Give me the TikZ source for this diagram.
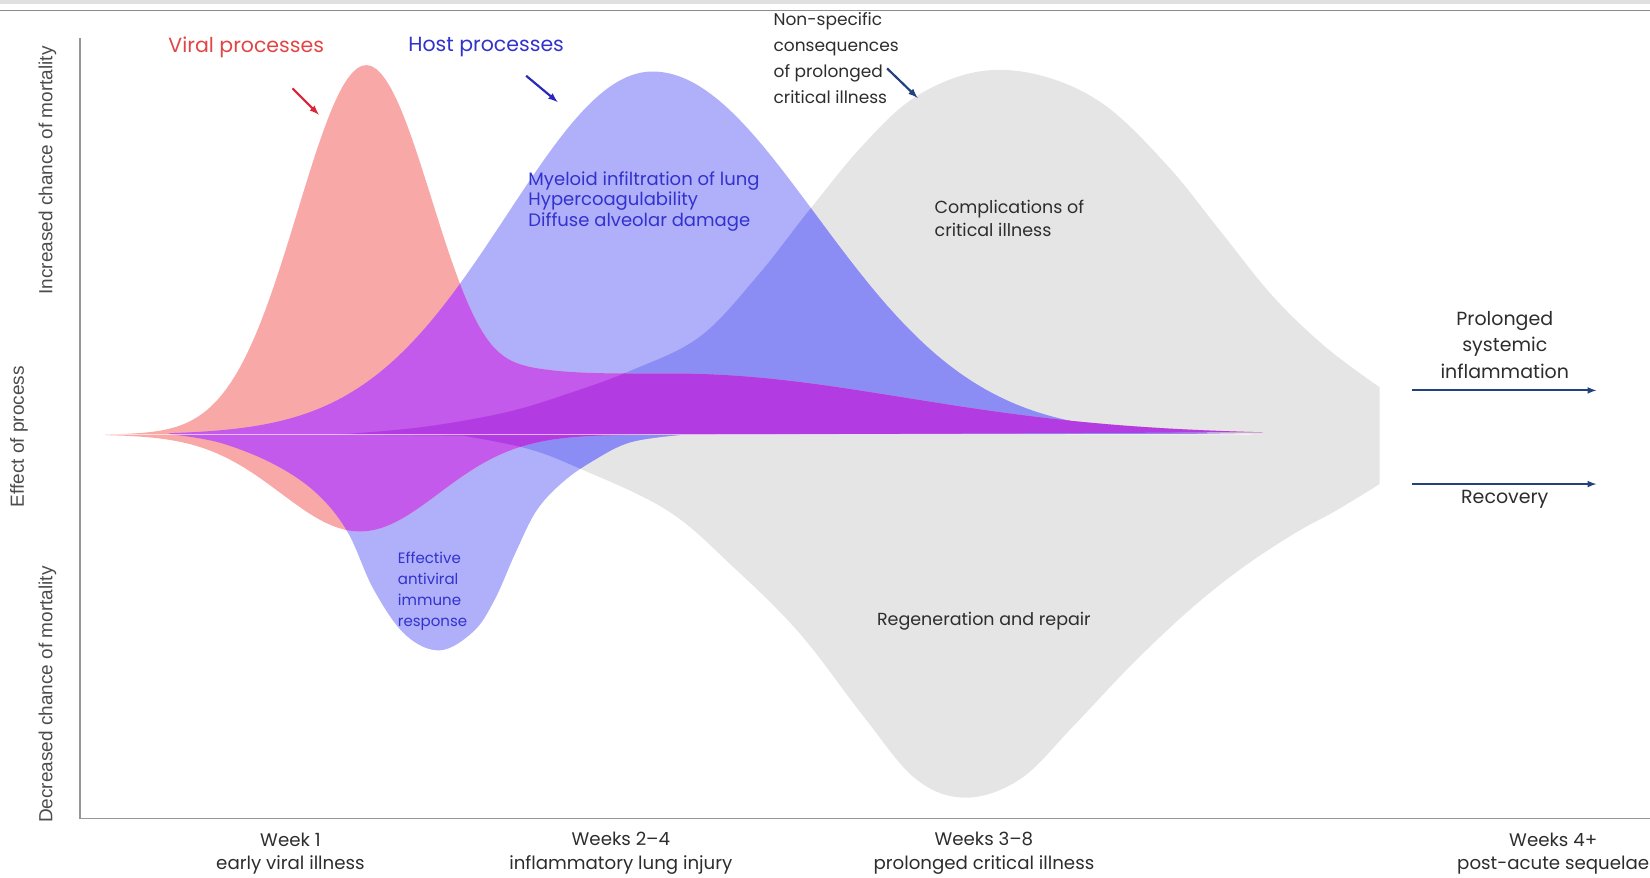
\documentclass[tikz,border=0pt]{standalone}
\usepackage{fontspec}
\setmainfont{Poppins}
\newfontfamily\axisfont{Liberation Sans}
\usetikzlibrary{positioning}

\definecolor{viral}{RGB}{249,168,168}
\definecolor{host}{RGB}{175,175,250}
\definecolor{critical}{RGB}{229,229,229}
\definecolor{hostcrit}{RGB}{140,140,245}
\definecolor{viralhost}{RGB}{195,90,235}
\definecolor{viralcrit}{RGB}{178,60,225}
\definecolor{viraltext}{RGB}{225,70,70}
\definecolor{viralarrow}{RGB}{220,35,55}
\definecolor{hosttext}{RGB}{50,50,205}
\definecolor{hostarrow}{RGB}{40,40,190}
\definecolor{navy}{RGB}{35,65,125}
\definecolor{axisgray}{RGB}{150,150,150}
\definecolor{labeltext}{RGB}{45,45,45}

% the three process shapes (pixel units, zero line at y=413)
\def\viralshape{plot[domain=100:1200,samples=240] (\x,{413-351*exp(-0.5*pow((\x-348)/65,2))-58/(1+exp(-1*max(min((\x-480)/20,8),-8)))*exp(-1*pow(max(\x-640,0)/310,2))})
  -- plot[domain=650:100,samples=120] (\x,{413+92*exp(-0.5*pow((\x-342)/75,2))}) -- cycle}
\def\hostshape{plot[domain=160:1180,samples=240] (\x,{413-345*exp(-0.5*pow((\x-620)/(\x<620 ? 138 : 155),2))})
  -- plot[smooth,tension=0.6] coordinates {(650,413) (600,420) (565,437) (535,458) (510,485) (490,525) (470,570) (450,600) (418,618) (385,603) (355,560) (330,505) (300,468) (260,441) (210,421) (165,413)} -- cycle}
\def\critshape{plot[smooth,tension=0.6] coordinates {(320,413) (400,406) (480,392) (540,374) (600,352) (665,320) (720,262) (768,201) (820,138) (870,92) (930,68) (990,72) (1050,100) (1110,158) (1160,220) (1210,282) (1260,330) (1311,368)}
  -- plot[smooth,tension=0.6] coordinates {(1311,460) (1270,485) (1230,507) (1180,540) (1130,580) (1075,632) (1020,690) (970,740) (918,758) (870,740) (820,680) (760,602) (697,539) (634,485) (548,444) (500,426) (440,414)} -- cycle}

\begin{document}
\begin{tikzpicture}[x=1.0523pt, y=-1.0523pt, >=latex,
  lbl/.style={font=\fontsize{19}{26.5}\selectfont, inner sep=0pt},
  inlbl/.style={font=\fontsize{18}{20.5}\selectfont, inner sep=0pt, align=left},
  axislbl/.style={font=\axisfont\fontsize{19}{22}\selectfont, rotate=90, text=black!70, inner sep=0pt},
  period/.style={font=\fontsize{18.2}{23.5}\selectfont, align=center, text=labeltext, inner sep=0pt},
  pointer/.style={->, line width=2.2pt}]
\useasboundingbox (0,0) rectangle (1568,834);

% page rule at the top
\fill[black!12] (0,0) rectangle (1568,4);
\draw[black!45, line width=1.6pt] (0,10) -- (1568,10);

% the shapes, overlaps filled by clipping
\fill[critical] \critshape;
\fill[host] \hostshape;
\begin{scope}
  \clip \critshape;
  \fill[hostcrit] \hostshape;
\end{scope}
\fill[viral] \viralshape;
\begin{scope}
  \clip \hostshape;
  \fill[viralhost] \viralshape;
\end{scope}
\begin{scope}
  \clip \critshape;
  \fill[viralcrit] \viralshape;
\end{scope}
\draw[white, opacity=0.6, line width=1.1pt] (100,413) -- (1190,413);

% axes
\draw[axisgray, line width=1.5pt] (76,36) -- (76,778) -- (1568,778);
\node[axislbl] (incr) at (45,162) {Increased chance of mortality};
\node[axislbl] (effect) at (18,415) {Effect of process};
\node[axislbl] (decr) at (45,660) {Decreased chance of mortality};

% process labels and pointers
\node[lbl, text=viraltext, font=\fontsize{20.5}{26}\selectfont] (viral) at (234,45) {Viral processes};
\node[lbl, text=hosttext, font=\fontsize{20.5}{26}\selectfont] (host) at (462,45) {Host processes};
\node[lbl, text=labeltext, align=left, anchor=north west, font=\fontsize{17}{26}\selectfont] (nonspec) at (735,12) {Non-specific\\consequences\\of prolonged\\critical illness};
\coordinate (viralfrom) at (278,84);
\coordinate (viralto) at (303,109);
\coordinate (hostfrom) at (500,72);
\coordinate (hostto) at (530,97);
\coordinate (critfrom) at (843,65);
\coordinate (critto) at (872,93);
\draw[pointer, viralarrow] (viralfrom) -- (viralto);
\draw[pointer, hostarrow] (hostfrom) -- (hostto);
\draw[pointer, navy] (critfrom) -- (critto);

% labels inside the shapes
\node[inlbl, text=hosttext, anchor=north west] (myeloid) at (502,163) {Myeloid infiltration of lung\\Hypercoagulability\\Diffuse alveolar damage};
\node[inlbl, text=labeltext, anchor=north west, font=\fontsize{17.5}{23}\selectfont] (complic) at (888,190) {Complications of\\critical illness};
\node[inlbl, text=hosttext, anchor=north west, font=\fontsize{15}{21}\selectfont] (effective) at (378,524) {Effective\\antiviral\\immune\\response};
\node[inlbl, text=labeltext, font=\fontsize{17.5}{21}\selectfont] (regen) at (935,590) {Regeneration and repair};

% outcomes
\coordinate (inflfrom) at (1342,371);
\coordinate (inflto) at (1517,371);
\coordinate (recfrom) at (1342,460);
\coordinate (recto) at (1517,460);
\draw[->, navy, line width=2pt] (inflfrom) -- (inflto);
\draw[->, navy, line width=2pt] (recfrom) -- (recto);
\node[lbl, text=labeltext, align=center, anchor=south] (prolonged) at (1430,360) {Prolonged\\systemic\\inflammation};
\node[lbl, text=labeltext, anchor=north] (recovery) at (1430,466) {Recovery};

% time periods
\node[period] (wk1) at (276,811) {Week 1\\early viral illness};
\node[period] (wk2) at (590,811) {Weeks 2--4\\inflammatory lung injury};
\node[period] (wk3) at (935,811) {Weeks 3--8\\prolonged critical illness};
\node[period] (wk4) at (1476,811) {Weeks 4+\\post-acute sequelae};
\end{tikzpicture}
\end{document}
